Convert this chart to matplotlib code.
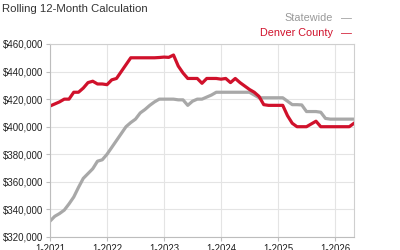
import matplotlib
matplotlib.use("Agg")
import matplotlib.pyplot as plt
import numpy as np

plt.rcParams['font.family'] = ['Liberation Sans', 'DejaVu Sans']

months = np.arange(65)  # Jan 2021 .. May 2026
tick_positions = [0, 12, 24, 36, 48, 60]
tick_labels = ["1-2021", "1-2022", "1-2023", "1-2024", "1-2025", "1-2026"]
y_ticks = [320000, 340000, 360000, 380000, 400000, 420000, 440000, 460000]

denver = [415000, 416500, 418000, 420000, 420000, 425000, 425000, 428000, 432000, 433000,
          431000, 431000, 430500, 434000, 435000, 440000, 445000, 450000, 450000, 450000,
          450000, 450000, 450000, 450200, 450500, 450300, 452000, 444000, 439000, 435000,
          435000, 435000, 431500, 435000, 435000, 435000, 434500, 435000, 432000, 435000,
          432000, 429500, 427000, 425000, 422000, 416000, 415500, 415500, 415500, 415500,
          408000, 402500, 400000, 400000, 400000, 402000, 404000, 400000, 400000, 400000,
          400000, 400000, 400000, 400000, 402500]

statewide = [331500, 335000, 337000, 339500, 344000, 349000, 356000, 362500, 366000, 369500,
             375000, 376000, 380000, 385000, 390000, 395000, 400000, 403000, 405500, 410000,
             412500, 415500, 418000, 420000, 420000, 420000, 420000, 419500, 419500, 415500,
             418500, 420000, 420000, 421500, 423000, 425000, 425000, 425000, 425000, 425000,
             425000, 425000, 425000, 423000, 421000, 421000, 421000, 421000, 421000, 421000,
             418500, 416000, 416000, 415800, 411000, 411000, 411000, 410500, 406000, 405500,
             405500, 405500, 405500, 405500, 405500]

RED = "#d0112b"
GRAY = "#a8a8a8"

fig = plt.figure(figsize=(4, 2.5), dpi=100)
ax = fig.add_axes([50/400, 1-237/250, (354-50)/400, (237-44)/250])

ax.plot(months, statewide, color=GRAY, lw=2.3, solid_joinstyle='round')
ax.plot(months, denver, color=RED, lw=2.3, solid_joinstyle='round')

ax.set_xlim(0, 64)
ax.set_ylim(320000, 460000)
ax.set_xticks(tick_positions)
ax.set_xticklabels(tick_labels)
ax.set_yticks(y_ticks)
ax.set_yticklabels([f"${v:,.0f}" for v in y_ticks])
ax.grid(True, color="#e4e4e4", lw=0.8)
ax.set_axisbelow(True)
for s in ax.spines.values():
    s.set_color("#cfcfcf")
    s.set_linewidth(0.8)
ax.spines['left'].set_color("#bdbdbd")
ax.spines['bottom'].set_color("#bdbdbd")
ax.tick_params(axis='both', labelsize=7, colors="#bdbdbd", labelcolor="#222222", length=3, width=0.8, pad=2)

fig.text(2/400, 1-9/250, "Rolling 12-Month Calculation", fontsize=8.2, color="#333333", va="center", ha="left")
fig.text(333/400, 1-18/250, "Statewide", fontsize=7.8, color="#999999", va="center", ha="right")
fig.text(341/400, 1-18/250, "—", fontsize=7.8, color="#999999", va="center", ha="left")
fig.text(333/400, 1-33/250, "Denver County", fontsize=7.8, color=RED, va="center", ha="right")
fig.text(341/400, 1-33/250, "—", fontsize=7.8, color=RED, va="center", ha="left")

fig.savefig("out.png", dpi=100)
